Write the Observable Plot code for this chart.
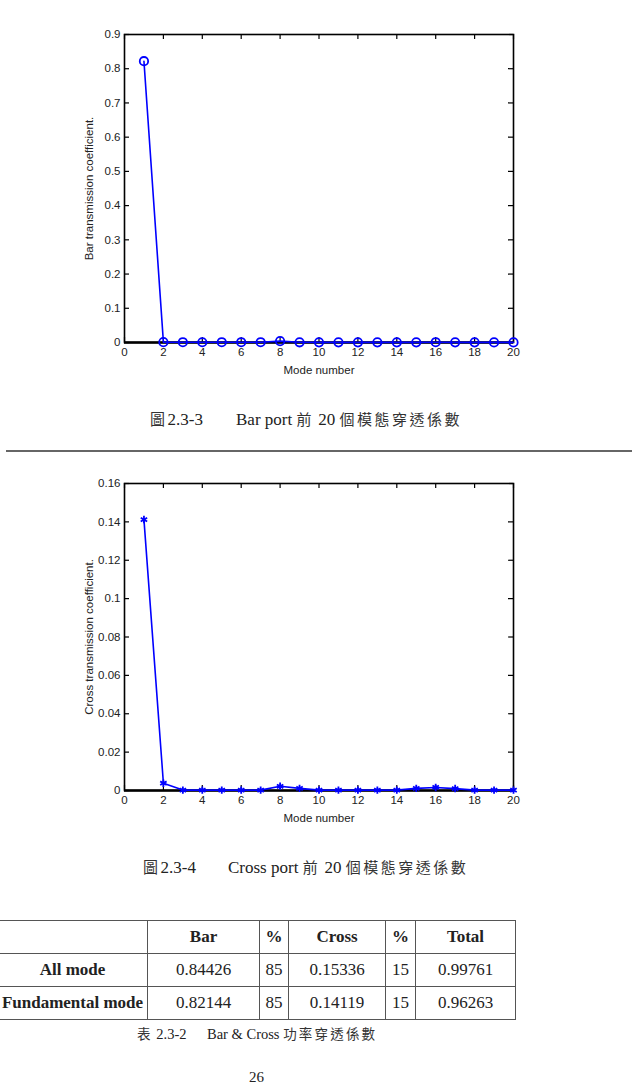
<!DOCTYPE html>
<html>
<head>
<meta charset="utf-8">
<script src="https://cdn.jsdelivr.net/npm/d3@7"></script>
<script src="https://cdn.jsdelivr.net/npm/@observablehq/plot@0.6"></script>
<style>
  html, body { margin: 0; padding: 0; background: #fff; }
  #page { position: relative; width: 632px; height: 1092px; overflow: hidden; background: #fff; }
  .chart { position: absolute; left: 0; }
  .cap { position: absolute; font-family: "Liberation Serif", "Noto Sans CJK TC", serif; font-size: 17px; color: #222; white-space: nowrap; line-height: 20px; }
  .cjk { font-family: "Noto Sans CJK TC", sans-serif; font-size: 15px; letter-spacing: 2.5px; color: #333; }
  .small { font-size: 14.5px; }
  .small .cjk { font-size: 13.5px; letter-spacing: 2.2px; }
  #rule { position: absolute; left: 6px; width: 626px; top: 450px; height: 2px; background: #666; }
  table { position: absolute; left: -3px; top: 920px; border-collapse: collapse; font-family: "Liberation Serif", serif; font-size: 17px; color: #222; }
  td, th { border: 1px solid #555; text-align: center; padding: 0; height: 32px; }
  th { font-weight: bold; }
</style>
</head>
<body>
<div id="page"></div>
<script>
// ---- data ----
const modes = [1,2,3,4,5,6,7,8,9,10,11,12,13,14,15,16,17,18,19,20];
const barValues = [0.822, 0.001, 0.0008, 0.0007, 0.0008, 0.0008, 0.0008, 0.004, 0.0006, 0.0005, 0.0005, 0.0005, 0.0005, 0.0005, 0.0005, 0.0008, 0.0005, 0.0004, 0.0003, 0.0003];
const crossValues = [0.1412, 0.0038, 0.0002, 0.0002, 0.0002, 0.0002, 0.0002, 0.0022, 0.0011, 0.0002, 0.0002, 0.0002, 0.0002, 0.0002, 0.0011, 0.0016, 0.001, 0.0002, 0.0002, 0.0002];
const xTicks = [0,2,4,6,8,10,12,14,16,18,20];
const barYTicks = [0,0.1,0.2,0.3,0.4,0.5,0.6,0.7,0.8,0.9];
const crossYTicks = [0,0.02,0.04,0.06,0.08,0.1,0.12,0.14,0.16];
const tableColumns = ["", "Bar", "%", "Cross", "%", "Total"];
const tableRows = [
  ["All mode", "0.84426", "85", "0.15336", "15", "0.99761"],
  ["Fundamental mode", "0.82144", "85", "0.14119", "15", "0.96263"]
];

const page = document.getElementById("page");

function makeChart(values, yMax, yTicks, yLabel, symbol, r, top, plotH) {
  const data = modes.map((m, i) => ({mode: m, value: values[i]}));
  const mT = 14, mB = 40, mL = 124, mR = 119;
  const H = plotH + mT + mB;
  const tick = 5;
  const chart = Plot.plot({
    width: 632, height: H,
    marginTop: mT, marginBottom: mB, marginLeft: mL, marginRight: mR,
    style: {fontFamily: "'Liberation Sans', Arial, sans-serif", fontSize: "11.5px", color: "#222", background: "transparent"},
    x: {domain: [0, 20]},
    y: {domain: [0, yMax]},
    marks: [
      Plot.axisX({ticks: xTicks, tickSize: 0, tickPadding: 5, tickFormat: d => String(d),
        label: "Mode number", labelAnchor: "center", labelArrow: "none", labelOffset: 31}),
      Plot.axisY({ticks: yTicks, tickSize: 0, tickPadding: 4, tickFormat: d => String(+d.toFixed(2)),
        label: yLabel, labelAnchor: "center", labelArrow: "none", labelOffset: 40}),
      Plot.tickX(xTicks, {x: d => d, insetTop: plotH - tick, stroke: "#000", strokeWidth: 1.2}),
      Plot.tickX(xTicks, {x: d => d, insetBottom: plotH - tick, stroke: "#000", strokeWidth: 1.2}),
      Plot.tickY(yTicks, {y: d => d, insetRight: 389 - tick, stroke: "#000", strokeWidth: 1.2}),
      Plot.tickY(yTicks, {y: d => d, insetLeft: 389 - tick, stroke: "#000", strokeWidth: 1.2}),
      Plot.frame({stroke: "#000", strokeWidth: 1.6}),
      Plot.ruleY([0], {stroke: "#000", strokeWidth: 2.5}),
      Plot.line(data, {x: "mode", y: "value", stroke: "#0000ff", strokeWidth: 1.6}),
      Plot.dot(data, {x: "mode", y: "value", stroke: "#0000ff", fill: "none", strokeWidth: 1.8, r: r, symbol: symbol})
    ]
  });
  chart.classList.add("chart");
  chart.style.top = top + "px";
  page.appendChild(chart);
}

makeChart(barValues, 0.9, barYTicks, "Bar transmission coefficient.", "circle", 4.2, 20, 308);
makeChart(crossValues, 0.16, crossYTicks, "Cross transmission coefficient.", "asterisk", 3.5, 469, 307);

function caption(top, leftA, textA, leftB, partsB, extraClass) {
  const a = document.createElement("span");
  a.className = "cap " + (extraClass || ""); a.style.left = leftA + "px"; a.style.top = top + "px";
  a.innerHTML = textA;
  page.appendChild(a);
  const b = document.createElement("span");
  b.className = "cap " + (extraClass || ""); b.style.left = leftB + "px"; b.style.top = top + "px";
  b.innerHTML = partsB;
  page.appendChild(b);
}
caption(409, 150, '<span class="cjk">圖</span>2.3-3', 236, 'Bar port <span class="cjk">前</span> 20 <span class="cjk">個模態穿透係數</span>');
caption(857, 143, '<span class="cjk">圖</span>2.3-4', 228, 'Cross port <span class="cjk">前</span> 20 <span class="cjk">個模態穿透係數</span>');
caption(1023, 137, '<span class="cjk">表</span> 2.3-2', 207, 'Bar &amp; Cross <span class="cjk">功率穿透係數</span>', "small");

const rule = document.createElement("div");
rule.id = "rule";
page.appendChild(rule);

const pn = document.createElement("span");
pn.className = "cap"; pn.style.left = "249px"; pn.style.top = "1067px"; pn.style.fontSize = "15px";
pn.textContent = "26";
page.appendChild(pn);

// table
const colWidths = [150, 112, 29, 97, 30, 100];
const table = document.createElement("table");
const colgroup = document.createElement("colgroup");
colWidths.forEach(w => { const c = document.createElement("col"); c.style.width = w + "px"; colgroup.appendChild(c); });
table.appendChild(colgroup);
const hr = document.createElement("tr");
tableColumns.forEach(c => { const th = document.createElement("th"); th.textContent = c; hr.appendChild(th); });
table.appendChild(hr);
tableRows.forEach(row => {
  const tr = document.createElement("tr");
  row.forEach((v, i) => {
    const el = document.createElement(i === 0 ? "th" : "td");
    el.textContent = v;
    tr.appendChild(el);
  });
  table.appendChild(tr);
});
page.appendChild(table);
</script>
</body>
</html>
